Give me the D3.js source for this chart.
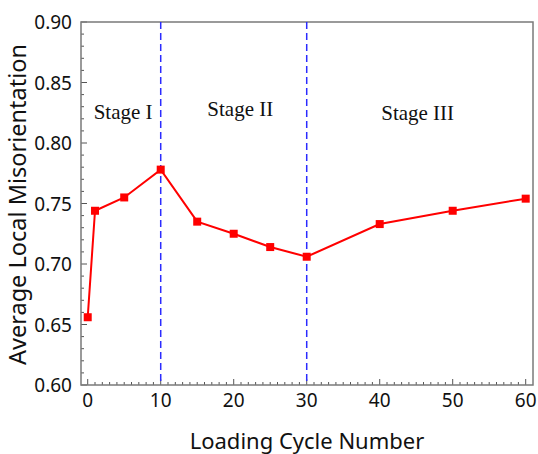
<!DOCTYPE html>
<html>
<head>
<meta charset="utf-8">
<script src="https://cdn.jsdelivr.net/npm/d3@7"></script>
<style>
  body { margin: 0; background: #fff; }
  svg { display: block; }
  .tick-label { font-family: "Noto Sans", sans-serif; font-size: 19px; fill: #111; }
  .axis-title { font-family: "Noto Sans", sans-serif; font-size: 22px; fill: #111; }
  .stage { font-family: "Liberation Serif", "Times New Roman", serif; font-size: 21px; fill: #111; }
</style>
</head>
<body>
<svg width="538" height="454"></svg>
<script>
const cycles = [0, 1, 5, 10, 15, 20, 25, 30, 40, 50, 60];
const misorientation = [0.656, 0.744, 0.755, 0.778, 0.735, 0.725, 0.714, 0.706, 0.733, 0.744, 0.754];
const stageBounds = [10, 30];
const stageLabels = ["Stage I", "Stage II", "Stage III"];
const stageLabelX = [4.85, 20.9, 45.2];
const stageLabelY = [0.820, 0.8225, 0.819];
const xTicks = [0, 10, 20, 30, 40, 50, 60];
const yTicks = [0.60, 0.65, 0.70, 0.75, 0.80, 0.85, 0.90];

const svg = d3.select("svg");
const plotLeft = 81, plotTop = 22, plotRight = 533, plotBottom = 385;

const x = d3.scaleLinear().domain([-0.92, 61]).range([plotLeft, plotRight]);
const y = d3.scaleLinear().domain([0.60, 0.90]).range([plotBottom, plotTop]);

// minor ticks
const xMinor = d3.range(0, 61, 1).filter(v => v % 10 !== 0);
const yMinor = d3.range(60, 91, 1).map(v => v / 100).filter((v, i) => i % 5 !== 0);

const tickG = svg.append("g").attr("stroke", "#555").attr("stroke-width", 1);
tickG.selectAll(".xminor").data(xMinor).enter().append("line")
    .attr("x1", d => x(d)).attr("x2", d => x(d))
    .attr("y1", plotBottom).attr("y2", plotBottom - 3);
tickG.selectAll(".xmajor").data(xTicks).enter().append("line")
    .attr("x1", d => x(d)).attr("x2", d => x(d))
    .attr("y1", plotBottom).attr("y2", plotBottom - 6);
tickG.selectAll(".yminor").data(yMinor).enter().append("line")
    .attr("x1", plotLeft).attr("x2", plotLeft + 3)
    .attr("y1", d => y(d)).attr("y2", d => y(d));
tickG.selectAll(".ymajor").data(yTicks).enter().append("line")
    .attr("x1", plotLeft).attr("x2", plotLeft + 6)
    .attr("y1", d => y(d)).attr("y2", d => y(d));

// frame
svg.append("rect")
    .attr("x", plotLeft).attr("y", plotTop)
    .attr("width", plotRight - plotLeft).attr("height", plotBottom - plotTop)
    .attr("fill", "none")
    .attr("stroke", "#7a7a7a")
    .attr("stroke-width", 1.5);

// tick labels
svg.selectAll(".xl").data(xTicks).enter().append("text")
    .attr("class", "tick-label")
    .attr("x", d => x(d))
    .attr("y", 407)
    .attr("text-anchor", "middle")
    .text(d => d);

svg.selectAll(".yl").data(yTicks).enter().append("text")
    .attr("class", "tick-label")
    .attr("x", 72)
    .attr("y", d => y(d) + 7)
    .attr("text-anchor", "end")
    .text(d => d.toFixed(2));

// axis titles
svg.append("text")
    .attr("class", "axis-title")
    .attr("x", 307)
    .attr("y", 449)
    .attr("text-anchor", "middle")
    .text("Loading Cycle Number");

svg.append("text")
    .attr("class", "axis-title")
    .style("font-size", "23.5px")
    .attr("transform", `translate(26,${(plotTop + plotBottom) / 2 + 1}) rotate(-90)`)
    .attr("text-anchor", "middle")
    .text("Average Local Misorientation");

// stage boundaries
svg.selectAll(".bound").data(stageBounds).enter().append("line")
    .attr("x1", d => x(d)).attr("x2", d => x(d))
    .attr("y1", plotTop).attr("y2", plotBottom)
    .attr("stroke", "#2b2bff")
    .attr("stroke-width", 1.5)
    .attr("stroke-dasharray", "7,4");

// stage labels
svg.selectAll(".stage").data(stageLabels).enter().append("text")
    .attr("class", "stage")
    .attr("x", (d, i) => x(stageLabelX[i]))
    .attr("y", (d, i) => y(stageLabelY[i]))
    .attr("text-anchor", "middle")
    .text(d => d);

// data line
const pts = cycles.map((c, i) => [c, misorientation[i]]);
svg.append("path")
    .datum(pts)
    .attr("fill", "none")
    .attr("stroke", "#ff0000")
    .attr("stroke-width", 2)
    .attr("d", d3.line().x(d => x(d[0])).y(d => y(d[1])));

svg.selectAll(".pt").data(pts).enter().append("rect")
    .attr("x", d => x(d[0]) - 4)
    .attr("y", d => y(d[1]) - 4)
    .attr("width", 8)
    .attr("height", 8)
    .attr("fill", "#ff0000");
</script>
</body>
</html>
